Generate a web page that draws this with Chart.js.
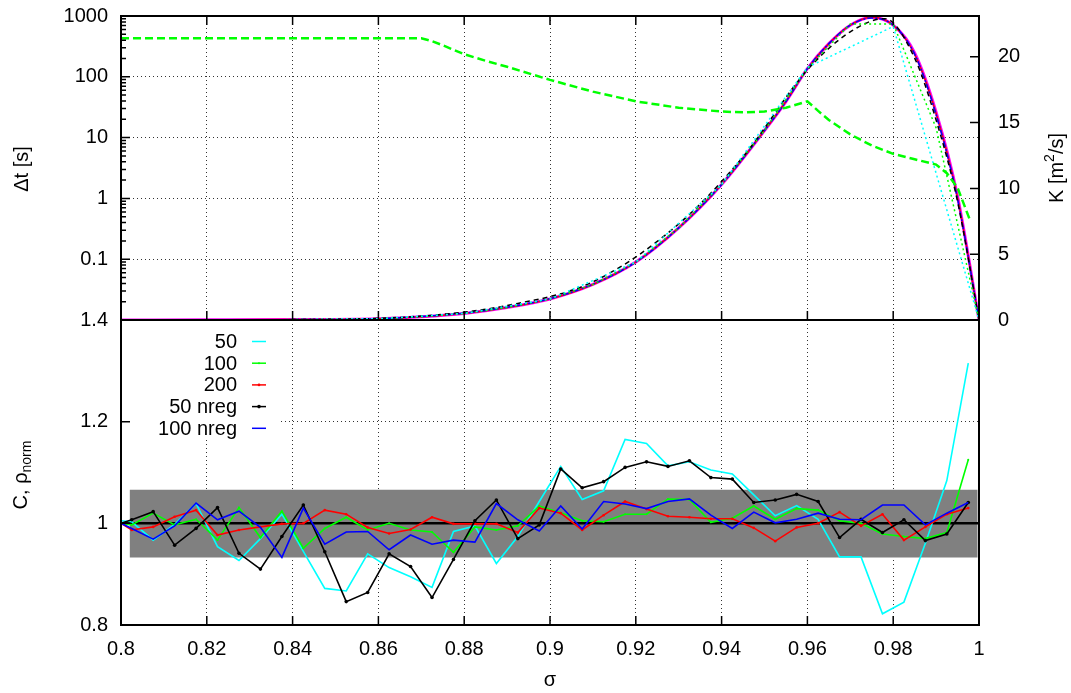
<!DOCTYPE html>
<html>
<head>
<meta charset="utf-8">
<title>K and C profiles</title>
<script src="https://cdn.jsdelivr.net/npm/chart.js@4.4.1/dist/chart.umd.min.js"></script>
<style>
  body { margin: 0; background: #fff; }
  #wrap { position: relative; width: 1071px; height: 693px; }
  #wrap canvas { position: absolute; left: 0; top: 0; }
</style>
</head>
<body>
<div id="wrap">
  <canvas id="chartC" width="1071" height="693"></canvas>
  <canvas id="chartK" width="1071" height="693"></canvas>
</div>
<script>
// axis ticks
const sigmaTicks = [0.8, 0.82, 0.84, 0.86, 0.88, 0.9, 0.92, 0.94, 0.96, 0.98, 1];
const dtTicks = [0.01, 0.1, 1, 10, 100, 1000];
const kTicks = [0, 5, 10, 15, 20];
const cTicks = [0.8, 1, 1.2, 1.4];

// upper panel: diffusivity K [m2/s]
const sigmaK = [0.8, 0.82, 0.84, 0.86, 0.87, 0.88, 0.89, 0.9, 0.91, 0.92, 0.93, 0.94, 0.95, 0.955, 0.96, 0.965, 0.97, 0.975, 0.98, 0.985, 0.99, 0.995, 1.0];
const kProfile = [0, 0.01, 0.03, 0.1, 0.25, 0.5, 0.95, 1.6, 2.7, 4.4, 7.0, 10.3, 14.4, 16.6, 19.1, 21.0, 22.4, 23.0, 22.4, 20.3, 15.8, 9.4, 0];
const k200 = [0, 0.01, 0.03, 0.1, 0.25, 0.5, 0.95, 1.6, 2.7, 4.4, 7.0, 10.3, 14.4, 16.6, 19.1, 21.0, 22.4, 23.0, 22.4, 20.2, 15.7, 9.3, 0];
const k100nreg = [0, 0.01, 0.03, 0.1, 0.26, 0.52, 0.97, 1.62, 2.72, 4.4, 7.0, 10.3, 14.4, 16.6, 19.1, 21.0, 22.4, 22.95, 22.4, 20.2, 15.6, 9.2, 0];

const sigmaK50nreg = [0.8, 0.84, 0.87, 0.89, 0.91, 0.93, 0.945, 0.96, 0.97, 0.978, 0.985, 0.99, 0.995, 1.0];
const k50nreg = [0, 0.03, 0.3, 1.1, 2.9, 7.3, 12.4, 19.0, 21.9, 22.9, 19.9, 15.2, 9.0, 0];

const sigmaK100 = [0.8, 0.81, 0.82, 0.83, 0.84, 0.85, 0.86, 0.87, 0.88, 0.89, 0.9, 0.91, 0.92, 0.93, 0.94, 0.95, 0.96, 0.97, 0.98, 0.99, 1.0];
const k100 = [0, 0.005, 0.01, 0.02, 0.03, 0.06, 0.1, 0.25, 0.5, 0.95, 1.6, 2.7, 4.4, 7.0, 10.3, 14.4, 19.1, 22.5, 22.5, 14.6, 0];

const sigmaK50 = [0.8, 0.82, 0.84, 0.86, 0.88, 0.9, 0.92, 0.94, 0.96, 0.98, 1.0];
const k50 = [0, 0.01, 0.03, 0.1, 0.5, 1.6, 4.4, 10.3, 19.2, 22.3, 0];

// upper panel: time step [s]
const sigmaDt = [0.8, 0.87, 0.8725, 0.875, 0.88, 0.885, 0.89, 0.9, 0.91, 0.92, 0.93, 0.94, 0.945, 0.95, 0.955, 0.96, 0.9625, 0.965, 0.97, 0.975, 0.98, 0.985, 0.99, 0.9925, 0.995, 0.998];
const dtValues = [430, 430, 385, 330, 235, 183, 146, 89, 57, 39.5, 31, 26.8, 26, 26.8, 31, 39.5, 27.5, 19.5, 11.3, 7.4, 5.4, 4.4, 3.6, 2.6, 1.5, 0.42];

// lower panel: normalised C
const sigmaC = [0.8, 0.8025, 0.8075, 0.8125, 0.8175, 0.8225, 0.8275, 0.8325, 0.8375, 0.8425, 0.8475, 0.8525, 0.8575, 0.8625, 0.8675, 0.8725, 0.8775, 0.8825, 0.8875, 0.8925, 0.8975, 0.9025, 0.9075, 0.9125, 0.9175, 0.9225, 0.9275, 0.9325, 0.9375, 0.9425, 0.9475, 0.9525, 0.9575, 0.9625, 0.9675, 0.9725, 0.9775, 0.9825, 0.9875, 0.9925, 0.9975];
const c50 = [1.005, 1.003, 0.967, 0.998, 1.039, 0.954, 0.927, 0.970, 1.018, 0.945, 0.872, 0.867, 0.940, 0.913, 0.895, 0.874, 0.984, 0.995, 0.921, 0.974, 1.043, 1.112, 1.047, 1.064, 1.165, 1.157, 1.113, 1.121, 1.105, 1.097, 1.056, 1.015, 1.035, 1.008, 0.934, 0.934, 0.822, 0.845, 0.961, 1.084, 1.315];
const c100 = [1.0, 0.997, 1.020, 0.997, 1.008, 0.967, 1.031, 0.972, 1.024, 0.951, 0.990, 1.012, 0.987, 1.000, 0.987, 0.983, 0.943, 0.993, 0.987, 0.995, 1.034, 1.021, 1.005, 1.003, 1.018, 1.018, 1.048, 1.047, 1.002, 1.010, 1.034, 1.008, 1.029, 1.026, 1.005, 1.000, 0.979, 0.974, 0.970, 0.982, 1.125];
const c200 = [1.0, 0.987, 0.993, 1.013, 1.026, 0.977, 0.987, 0.993, 0.999, 1.000, 1.026, 1.018, 0.992, 0.980, 0.988, 1.012, 0.999, 0.999, 0.999, 0.982, 1.030, 1.020, 0.987, 1.016, 1.043, 1.028, 1.014, 1.012, 1.009, 1.009, 0.991, 0.965, 0.992, 1.000, 1.022, 0.995, 1.018, 0.967, 0.993, 1.018, 1.030];
const c50nreg = [1.000, 1.007, 1.023, 0.957, 0.990, 1.031, 0.941, 0.910, 0.974, 1.036, 0.944, 0.846, 0.864, 0.940, 0.915, 0.854, 0.929, 1.005, 1.046, 0.970, 0.997, 1.107, 1.070, 1.082, 1.110, 1.121, 1.112, 1.123, 1.090, 1.087, 1.041, 1.046, 1.057, 1.043, 0.972, 1.008, 0.982, 1.007, 0.966, 0.979, 1.041];
const c100nreg = [1.000, 0.990, 0.969, 0.995, 1.040, 1.007, 1.024, 0.992, 0.933, 1.030, 0.959, 0.983, 0.984, 0.948, 0.977, 0.959, 0.967, 0.963, 1.039, 1.007, 0.985, 1.034, 0.989, 1.043, 1.038, 1.029, 1.043, 1.048, 1.016, 0.990, 1.022, 1.001, 1.008, 1.020, 1.008, 1.007, 1.036, 1.036, 0.997, 1.020, 1.041];

// tolerance band and reference level
const bandSigma = [0.802, 0.9997];
const bandLow = 0.933;
const bandHigh = 1.066;
const refLevel = 1;

const seriesNames = ['50', '100', '200', '50 nreg', '100 nreg'];
const seriesColors = ['#00ffff', '#00ff00', '#ff0000', '#000000', '#0000ff'];
const seriesDots = [0, 1, 1.3, 1.8, 0];

const fontFamily = "'Liberation Sans', Arial, sans-serif";
Chart.defaults.font.family = fontFamily;
Chart.defaults.font.size = 20;
Chart.defaults.color = '#000';
Chart.defaults.animation = false;

const gridColor = 'rgba(0,0,0,0.8)';

function pts(xs, ys) {
  return xs.map((x, i) => ({x: x, y: ys[i]}));
}

function fixedTicks(list) {
  return function(scale) {
    scale.ticks = list.map(v => ({value: v}));
  };
}

// pin an axis to a fixed size and drop its label overflow padding
function fixedSize(w, h) {
  return function(scale) {
    if (w !== null) scale.width = w;
    if (h !== null) scale.height = h;
    scale.paddingTop = 0;
    scale.paddingBottom = 0;
    scale.paddingLeft = 0;
    scale.paddingRight = 0;
  };
}

function drawVertical(ctx, cx, cy, parts) {
  ctx.save();
  ctx.translate(cx, cy);
  ctx.rotate(-Math.PI / 2);
  ctx.textBaseline = 'middle';
  ctx.textAlign = 'left';
  ctx.fillStyle = '#000';
  let total = 0;
  parts.forEach(p => {
    ctx.font = p.size + 'px ' + fontFamily;
    p.w = ctx.measureText(p.text).width;
    total += p.w;
  });
  let x = -total / 2;
  parts.forEach(p => {
    ctx.font = p.size + 'px ' + fontFamily;
    ctx.fillText(p.text, x, p.dy || 0);
    x += p.w;
  });
  ctx.restore();
}

// frame, inward tick marks and axis titles of the upper panel
const framePlotK = {
  id: 'framePlotK',
  afterDraw(chart) {
    const ctx = chart.ctx;
    const a = chart.chartArea;
    const xs = chart.scales.x, yd = chart.scales.yDt, yk = chart.scales.yK;
    ctx.save();
    ctx.strokeStyle = '#000';
    ctx.lineWidth = 1.5;
    ctx.beginPath();
    sigmaTicks.forEach(v => {
      const px = xs.getPixelForValue(v);
      ctx.moveTo(px, a.top); ctx.lineTo(px, a.top + 9);
      ctx.moveTo(px, a.bottom); ctx.lineTo(px, a.bottom - 9);
    });
    dtTicks.forEach(d => {
      const py = yd.getPixelForValue(d);
      ctx.moveTo(a.left, py); ctx.lineTo(a.left + 9, py);
      if (d < 1000) {
        for (let m = 2; m <= 9; m++) {
          const pm = yd.getPixelForValue(d * m);
          ctx.moveTo(a.left, pm); ctx.lineTo(a.left + 5, pm);
        }
      }
    });
    kTicks.forEach(v => {
      const py = yk.getPixelForValue(v);
      ctx.moveTo(a.right, py); ctx.lineTo(a.right - 9, py);
    });
    ctx.stroke();
    ctx.lineWidth = 2;
    ctx.strokeRect(a.left, a.top, a.right - a.left, a.bottom - a.top);
    ctx.restore();

    drawVertical(ctx, 22, 169, [{text: '\u0394t [s]', size: 20}]);
    drawVertical(ctx, 1057, 168, [
      {text: 'K [m', size: 20},
      {text: '2', size: 14, dy: -7},
      {text: '/s]', size: 20}
    ]);
  }
};

// frame, ticks, key and titles of the lower panel
const framePlotC = {
  id: 'framePlotC',
  afterDatasetsDraw(chart) {
    const ctx = chart.ctx;
    const a = chart.chartArea;
    ctx.save();
    ctx.fillStyle = '#fff';
    ctx.fillRect(a.left + 1, a.top + 1, 158, 119);
    ctx.font = '20px ' + fontFamily;
    ctx.textAlign = 'right';
    ctx.textBaseline = 'middle';
    seriesNames.forEach((name, i) => {
      const y = 341.5 + i * 21.7;
      ctx.fillStyle = '#000';
      ctx.fillText(name, 237, y + 1);
      ctx.strokeStyle = seriesColors[i];
      ctx.lineWidth = 1.5;
      ctx.beginPath();
      ctx.moveTo(252, y); ctx.lineTo(266, y);
      ctx.stroke();
      if (seriesDots[i]) {
        ctx.fillStyle = seriesColors[i];
        ctx.beginPath();
        ctx.arc(259, y, seriesDots[i], 0, Math.PI * 2);
        ctx.fill();
      }
    });
    ctx.restore();
  },
  afterDraw(chart) {
    const ctx = chart.ctx;
    const a = chart.chartArea;
    const xs = chart.scales.x, ys = chart.scales.y;
    ctx.save();
    ctx.strokeStyle = '#000';
    ctx.lineWidth = 1.5;
    ctx.beginPath();
    sigmaTicks.forEach(v => {
      const px = xs.getPixelForValue(v);
      ctx.moveTo(px, a.bottom); ctx.lineTo(px, a.bottom - 9);
    });
    cTicks.forEach(v => {
      const py = ys.getPixelForValue(v);
      ctx.moveTo(a.left, py); ctx.lineTo(a.left + 9, py);
    });
    ctx.stroke();
    ctx.lineWidth = 2;
    ctx.strokeRect(a.left, a.top, a.right - a.left, a.bottom - a.top);

    ctx.fillStyle = '#000';
    ctx.font = '20px ' + fontFamily;
    ctx.textAlign = 'center';
    ctx.textBaseline = 'middle';
    ctx.fillText('\u03c3', (a.left + a.right) / 2, 680);
    ctx.restore();

    drawVertical(ctx, 21, 475, [
      {text: 'C, \u03c1', size: 20},
      {text: 'norm', size: 14, dy: 6}
    ]);
  }
};

function kLine(xs, ys, color, width, dash, order, smooth) {
  return {
    data: pts(xs, ys),
    yAxisID: 'yK',
    borderColor: color,
    borderWidth: width,
    borderDash: dash,
    pointRadius: 0,
    cubicInterpolationMode: smooth ? 'monotone' : 'default',
    tension: 0,
    order: order
  };
}

new Chart(document.getElementById('chartK'), {
  type: 'line',
  data: {
    datasets: [
      kLine(sigmaK, kProfile, '#ff00ff', 3, [], 7, true),
      kLine(sigmaK, k200, '#ff0000', 1.5, [], 6, true),
      kLine(sigmaK, k100nreg, '#0000ff', 1.5, [6, 2, 2, 2], 5, true),
      kLine(sigmaK50nreg, k50nreg, '#000000', 1.5, [5, 4], 4, true),
      kLine(sigmaK100, k100, '#00ff00', 1.5, [2, 3], 3, false),
      kLine(sigmaK50, k50, '#00ffff', 1.5, [2, 3], 2, false),
      {
        data: pts(sigmaDt, dtValues),
        yAxisID: 'yDt',
        borderColor: '#00ff00',
        borderWidth: 2.5,
        borderDash: [8, 4],
        pointRadius: 0,
        tension: 0,
        order: 1
      }
    ]
  },
  options: {
    responsive: false,
    events: [],
    layout: {padding: {top: 16, bottom: 373, left: 0, right: 0}},
    plugins: {legend: {display: false}, tooltip: {enabled: false}},
    scales: {
      x: {
        type: 'linear', min: 0.8, max: 1,
        afterBuildTicks: fixedTicks(sigmaTicks),
        afterFit: fixedSize(null, 0),
        ticks: {display: false},
        grid: {color: gridColor, lineWidth: 1, drawTicks: false},
        border: {display: false, dash: [1, 3]}
      },
      yDt: {
        type: 'logarithmic', position: 'left', min: 0.01, max: 1000,
        afterBuildTicks: fixedTicks(dtTicks),
        afterFit: fixedSize(121, null),
        ticks: {padding: 13, callback: v => v === 0.01 ? '' : String(v)},
        grid: {color: gridColor, lineWidth: 1, drawTicks: false},
        border: {display: false, dash: [1, 3]}
      },
      yK: {
        type: 'linear', position: 'right', min: 0, max: 23.1,
        afterBuildTicks: fixedTicks(kTicks),
        afterFit: fixedSize(92, null),
        ticks: {padding: 19},
        grid: {display: false, drawTicks: false},
        border: {display: false}
      }
    }
  },
  plugins: [framePlotK]
});

function cLine(ys, i, order) {
  return {
    data: pts(sigmaC, ys),
    borderColor: seriesColors[i],
    backgroundColor: seriesColors[i],
    borderWidth: 1.6,
    pointRadius: seriesDots[i],
    pointBorderWidth: 0,
    tension: 0,
    order: order
  };
}

new Chart(document.getElementById('chartC'), {
  type: 'line',
  data: {
    datasets: [
      cLine(c100nreg, 4, 1),
      cLine(c50nreg, 3, 2),
      cLine(c200, 2, 3),
      cLine(c100, 1, 4),
      cLine(c50, 0, 5),
      {
        data: [{x: 0.8, y: refLevel}, {x: 1, y: refLevel}],
        borderColor: '#000', borderWidth: 2.5, pointRadius: 0, order: 6
      },
      {
        data: bandSigma.map(s => ({x: s, y: bandHigh})),
        borderWidth: 0, pointRadius: 0, fill: '+1',
        backgroundColor: '#808080', order: 7
      },
      {
        data: bandSigma.map(s => ({x: s, y: bandLow})),
        borderWidth: 0, pointRadius: 0, order: 8
      }
    ]
  },
  options: {
    responsive: false,
    events: [],
    layout: {padding: {top: 320, bottom: 0, left: 0, right: 92}},
    plugins: {legend: {display: false}, tooltip: {enabled: false}},
    scales: {
      x: {
        type: 'linear', min: 0.8, max: 1,
        afterBuildTicks: fixedTicks(sigmaTicks),
        afterFit: fixedSize(null, 68),
        ticks: {padding: 12, maxRotation: 0, autoSkip: false, callback: v => String(Number(v.toFixed(2)))},
        grid: {color: gridColor, lineWidth: 1, drawTicks: false},
        border: {display: false, dash: [1, 3]}
      },
      y: {
        type: 'linear', min: 0.8, max: 1.4,
        afterBuildTicks: fixedTicks(cTicks),
        afterFit: fixedSize(121, null),
        ticks: {padding: 13, callback: v => String(Number(v.toFixed(1)))},
        grid: {color: gridColor, lineWidth: 1, drawTicks: false},
        border: {display: false, dash: [1, 3]}
      }
    }
  },
  plugins: [framePlotC]
});
</script>
</body>
</html>
